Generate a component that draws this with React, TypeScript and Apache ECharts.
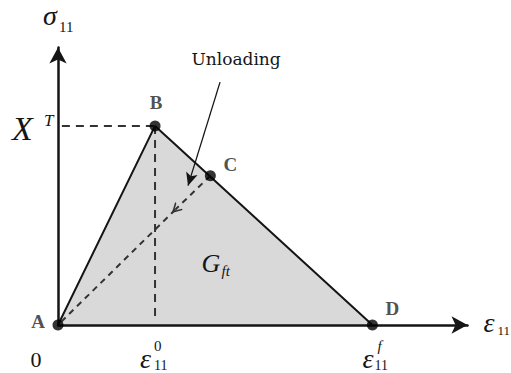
import React, { useEffect, useRef } from 'react';
import * as echarts from 'echarts';

// ---- data (in units of eps0 for strain and X^T for stress) ----
const EPS0 = 1;
const EPSF = 3.24;
const XT = 1;
const X_MAX = 4.22;
const Y_MAX = 1.394;

const pointNames = ['A', 'B', 'C', 'D'];
const pointStrain = [0, EPS0, 1.57, EPSF];
const pointStress = [0, XT, 0.75, 0];

const envelopeStrain = [0, EPS0, EPSF];
const envelopeStress = [0, XT, 0];

const unloadPath = [[1.57, 0.75], [1.21, 0.58], [0.02, 0.01]];
const pointerPath = [[1.67, 1.22], [1.34, 0.7]];
const gLabelAnchor = [1.48, 0.31];

const xTickValues = [0, EPS0, EPSF];
const xTickMain = ['0', 'ε', 'ε'];
const xTickSup = ['', '0', 'f'];
const xTickSub = ['', '11', '11'];
const yTickValues = [XT];
const yTickMain = ['X'];
const yTickSup = ['T'];

// ---- styles ----
const SERIF = 'Liberation Serif';
const INK = '#151515';
const pointLabelOffsets = [[-20, -4], [1, -23], [20, -11], [20, -17]];
const xTickMainDx = [-22, -15, -10];
const xTickSupDx = [0, -1, 5];
const xTickSubDx = [0, -1, 2];

const CHEVRON = 'path://M0,10 L5,0 L10,10 L8.4,10 L5,3.2 L1.6,10 Z';

function txt(x: number, y: number, text: string, size: number, italic: boolean, align = 'left', family = SERIF, weight = 'normal') {
  return {
    type: 'text',
    x,
    y,
    style: {
      text,
      fontSize: size,
      fontFamily: family,
      fontStyle: italic ? 'italic' : 'normal',
      fontWeight: weight,
      fill: INK,
      align,
      verticalAlign: 'middle',
    },
  };
}

function textSeries(data: number[][], build: (px: number, py: number, i: number) => any[]) {
  return {
    type: 'custom',
    coordinateSystem: 'cartesian2d',
    clip: false,
    silent: true,
    z: 20,
    encode: { x: 0, y: 1 },
    data: data.map((d, i) => [d[0], d[1], i]),
    renderItem: (_p: any, api: any) => {
      const pt = api.coord([api.value(0), api.value(1)]);
      return { type: 'group', children: build(pt[0], pt[1], api.value(2)) };
    },
  };
}

export default function App() {
  const ref = useRef<HTMLDivElement>(null);

  useEffect(() => {
    if (!ref.current) return;
    const chart = echarts.init(ref.current, undefined, { renderer: 'svg' });
    const axisCommon = {
      type: 'value',
      z: 10,
      axisLine: {
        show: true,
        symbol: ['none', 'arrow'],
        symbolSize: [13, 16],
        lineStyle: { color: INK, width: 2.5 },
      },
      axisTick: { show: false },
      axisLabel: { show: false },
      splitLine: { show: false },
    };
    chart.setOption({
      animation: false,
      backgroundColor: '#ffffff',
      grid: { left: 58, right: 43.5, top: 47.5, bottom: 48, outerBoundsMode: 'none', containLabel: false },
      xAxis: { ...axisCommon, min: 0, max: X_MAX },
      yAxis: { ...axisCommon, min: 0, max: Y_MAX },
      series: [
        {
          type: 'line',
          name: 'envelope',
          data: envelopeStrain.map((x, i) => [x, envelopeStress[i]]),
          symbol: 'none',
          lineStyle: { color: INK, width: 2 },
          areaStyle: { color: '#d9d9d9', opacity: 1 },
          z: 2,
        },
        {
          type: 'line',
          name: 'xtGuide',
          data: [[0.04, XT], [EPS0, XT]],
          symbol: 'none',
          lineStyle: { color: '#333', width: 2, type: [8, 6] },
          z: 3,
        },
        {
          type: 'line',
          name: 'eps0Guide',
          data: [[EPS0, XT], [EPS0, 0.025]],
          symbol: 'none',
          lineStyle: { color: '#333', width: 2, type: [8, 6] },
          z: 3,
        },
        {
          type: 'line',
          name: 'unloadTail',
          data: [unloadPath[1], unloadPath[2]],
          symbol: 'none',
          lineStyle: { color: '#333', width: 2, type: [6, 5] },
          z: 3,
          markLine: {
            silent: true,
            animation: false,
            label: { show: false },
            lineStyle: { color: '#333', width: 2, type: [6, 5] },
            symbol: ['none', CHEVRON],
            symbolSize: [11, 10],
            data: [[{ coord: unloadPath[0] }, { coord: unloadPath[1] }]],
          },
        },
        {
          type: 'line',
          name: 'pointer',
          data: [],
          symbol: 'none',
          markLine: {
            silent: true,
            animation: false,
            label: { show: false },
            lineStyle: { color: INK, width: 1.3, type: 'solid' },
            symbol: ['none', 'arrow'],
            symbolSize: [9, 13],
            data: [[{ coord: pointerPath[0] }, { coord: pointerPath[1] }]],
          },
        },
        {
          type: 'scatter',
          name: 'points',
          symbol: 'circle',
          symbolSize: 11,
          itemStyle: { color: '#000' },
          z: 12,
          data: pointNames.map((n, i) => ({
            name: n,
            value: [pointStrain[i], pointStress[i]],
            label: {
              show: true,
              formatter: n,
              position: 'inside',
              offset: pointLabelOffsets[i],
              fontFamily: SERIF,
              fontWeight: 'bold',
              fontSize: 19,
              color: '#222',
            },
          })),
        },
        textSeries(xTickValues.map((v) => [v, 0]), (px, py, i) => {
          if (!xTickSup[i]) return [txt(px + xTickMainDx[i], py + 34, xTickMain[i], 22, false, 'center')];
          return [
            txt(px + xTickMainDx[i], py + 33, xTickMain[i], 28, true),
            txt(px + xTickSupDx[i], py + 21, xTickSup[i], 15, xTickSup[i] === 'f'),
            txt(px + xTickSubDx[i], py + 40, xTickSub[i], 14, false),
          ];
        }),
        textSeries(yTickValues.map((v) => [0, v]), (px, py, i) => [
          txt(px - 46, py + 2.5, yTickMain[i], 34, true),
          txt(px - 14, py - 5.5, yTickSup[i], 17, true),
        ]),
        textSeries([[0, Y_MAX]], (px, py) => [
          txt(px - 15, py - 32, 'σ', 28, true),
          txt(px + 1, py - 20.5, '11', 15, false),
        ]),
        textSeries([[X_MAX, 0]], (px, py) => [
          txt(px + 16, py - 2.5, 'ε', 28, true),
          txt(px + 30, py + 5, '11', 13, false),
        ]),
        textSeries([pointerPath[0]], (px, py) => [
          txt(px + 16, py - 23, 'Unloading', 17, false, 'center', 'DejaVu Serif'),
        ]),
        textSeries([gLabelAnchor], (px, py) => [
          txt(px, py, 'G', 26, true),
          txt(px + 20, py + 8, 'ft', 15, true),
        ]),
      ],
    });
    return () => chart.dispose();
  }, []);

  return <div ref={ref} style={{ position: 'fixed', left: 0, top: 0, width: 511, height: 373, background: '#fff' }} />;
}
